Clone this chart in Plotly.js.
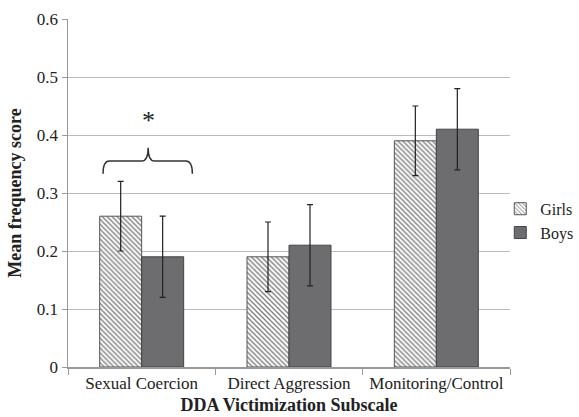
<!DOCTYPE html>
<html><head><meta charset="utf-8">
<script src="https://cdn.plot.ly/plotly-3.0.1.min.js"></script>
<style>body{margin:0;padding:0;background:#fff}#chart{width:579px;height:417px}</style>
</head><body><div id="chart"></div>
<script>
const categories = ["Sexual Coercion", "Direct Aggression", "Monitoring/Control"];
const girls = [0.26, 0.19, 0.39];
const girlsErr = [0.06, 0.06, 0.06];
const boys = [0.19, 0.21, 0.41];
const boysErr = [0.07, 0.07, 0.07];
const yTicks = [0, 0.1, 0.2, 0.3, 0.4, 0.5, 0.6];
const yTickText = ["0", "0.1", "0.2", "0.3", "0.4", "0.5", "0.6"];

const font = "Liberation Serif, Times New Roman, serif";

const traces = [
  {type: "bar", name: "Girls", x: categories, y: girls,
   error_y: {type: "data", array: girlsErr, visible: true, color: "#222", thickness: 1.2, width: 3},
   marker: {color: "#fff", line: {color: "#555", width: 1},
            pattern: {shape: "\\", fgcolor: "#777", bgcolor: "#fff", size: 3.5, solidity: 0.35}}},
  {type: "bar", name: "Boys", x: categories, y: boys,
   error_y: {type: "data", array: boysErr, visible: true, color: "#222", thickness: 1.2, width: 3},
   marker: {color: "#6d6d6f", line: {color: "#444", width: 1}}}
];

const layout = {
  width: 579, height: 417,
  margin: {l: 68, r: 69, t: 19, b: 50, autoexpand: false},
  paper_bgcolor: "#fff", plot_bgcolor: "#fff",
  font: {family: font, size: 17, color: "#222"},
  barmode: "group", bargap: 0.43, bargroupgap: 0,
  showlegend: true,
  legend: {x: 0.978, y: 0.42, xanchor: "left", yanchor: "middle", font: {family: font, size: 16, color: "#222"},
           itemwidth: 30, tracegroupgap: 6, bgcolor: "rgba(0,0,0,0)"},
  xaxis: {type: "category", showline: true, linecolor: "#999", linewidth: 1.5, showgrid: false,
          ticks: "outside", tickson: "boundaries", ticklen: 6, tickcolor: "#999",
          tickfont: {family: font, size: 17, color: "#222"},
          title: {text: "<b>DDA Victimization Subscale</b>", font: {family: font, size: 18, color: "#222"}, standoff: 6}},
  yaxis: {range: [0, 0.6], tickvals: yTicks, ticktext: yTickText, showline: true, linecolor: "#999", linewidth: 1.5,
          showgrid: true, gridcolor: "#bbb", gridwidth: 1, ticks: "outside", ticklen: 5, tickcolor: "#999",
          zeroline: false, tickfont: {family: font, size: 17, color: "#222"},
          title: {text: "<b>Mean frequency score</b>", font: {family: font, size: 18, color: "#222"}, standoff: 10}},
  shapes: [
    {type: "path", xref: "x", yref: "y",
     path: "M -0.262 0.333 Q -0.262 0.355 -0.22 0.355 L 0.0 0.355 Q 0.044 0.355 0.044 0.378 Q 0.044 0.355 0.088 0.355 L 0.30 0.355 Q 0.344 0.355 0.344 0.333",
     line: {color: "#333", width: 1.5}}
  ],
  annotations: [
    {x: 0.044, y: 0.425, xref: "x", yref: "y", text: "*", showarrow: false,
     font: {family: font, size: 26, color: "#222"}}
  ]
};

Plotly.newPlot("chart", traces, layout, {displayModeBar: false, staticPlot: true});
</script></body></html>
